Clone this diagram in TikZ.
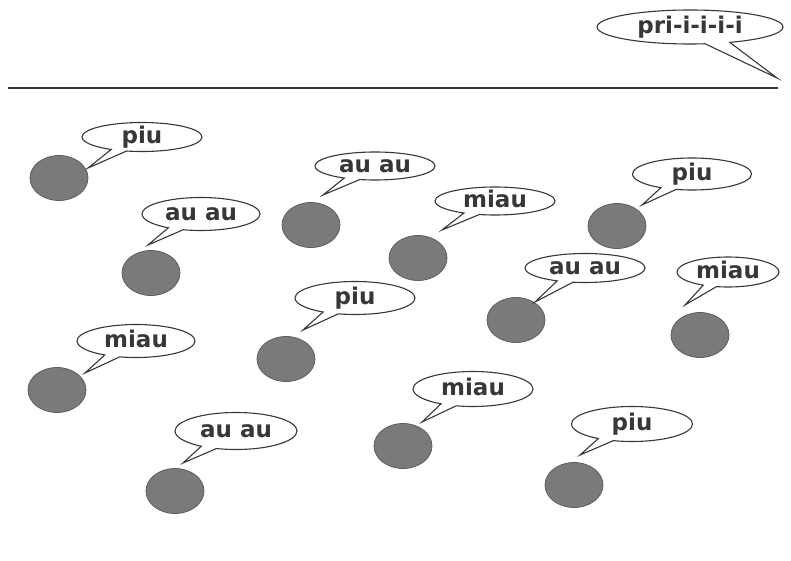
\documentclass[tikz,border=0pt]{standalone}
\usepackage{fontspec}
\setmainfont{DejaVu Sans}
\usetikzlibrary{shapes.geometric,shapes.callouts}
\definecolor{ballgray}{RGB}{122,122,122}
\definecolor{balledge}{RGB}{95,95,95}
\definecolor{inkgray}{RGB}{55,55,55}
\tikzset{
  ball/.style={ellipse, fill=ballgray, draw=balledge, line width=0.8pt,
    minimum width=58pt, minimum height=45pt, inner sep=0pt},
  bubble/.style={ellipse callout, draw=inkgray, line width=1.1pt, fill=white,
    inner sep=0pt, font=\bfseries\fontsize{23}{23}\selectfont, text=inkgray,
    text height=12.6pt, text depth=0pt, callout pointer arc=16},
  rule/.style={draw=inkgray, line width=1.3pt}
}
\begin{document}
\begin{tikzpicture}[x=1pt,y=-1pt]
\useasboundingbox (0,0) rectangle (791,561);
% top line
\coordinate (L1) at (8,88);
\coordinate (L2) at (778,88);
\draw[rule] (L1) -- (L2);
% balls
\node[ball] (b1) at (59,178) {};
\node[ball] (b2) at (151,273) {};
\node[ball] (b3) at (311,225) {};
\node[ball] (b4) at (418,258) {};
\node[ball] (b5) at (617,226) {};
\node[ball] (b6) at (516,320) {};
\node[ball] (b7) at (700,335) {};
\node[ball] (b8) at (286,359) {};
\node[ball] (b9) at (57,390) {};
\node[ball] (b10) at (403,446) {};
\node[ball] (b11) at (175,491) {};
\node[ball] (b12) at (574,485) {};
% pointer tips
\coordinate (t0) at (777,78);
\coordinate (t1) at (88,168);
\coordinate (t2) at (148,245);
\coordinate (t3) at (323,195);
\coordinate (t4) at (442,230);
\coordinate (t5) at (642,205);
\coordinate (t6) at (535,302);
\coordinate (t7) at (685,305);
\coordinate (t8) at (303,330);
\coordinate (t9) at (85,373);
\coordinate (t10) at (422,422);
\coordinate (t11) at (183,463);
\coordinate (t12) at (580,455);
% bubbles
\node[bubble, minimum width=186pt, minimum height=34pt, callout absolute pointer=(t0)] (s0) at (690,27) {pri-i-i-i-i};
\node[bubble, minimum width=120pt, minimum height=29pt, callout absolute pointer=(t1)] (s1) at (142,137) {piu};
\node[bubble, minimum width=118pt, minimum height=33pt, callout absolute pointer=(t2)] (s2) at (201,214) {au au};
\node[bubble, minimum width=120pt, minimum height=28pt, callout absolute pointer=(t3)] (s3) at (375,166) {au au};
\node[bubble, minimum width=120pt, minimum height=28pt, callout absolute pointer=(t4)] (s4) at (495,201) {miau};
\node[bubble, minimum width=119pt, minimum height=32pt, callout absolute pointer=(t5)] (s5) at (692,174) {piu};
\node[bubble, minimum width=120pt, minimum height=29pt, callout absolute pointer=(t6)] (s6) at (585,268) {au au};
\node[bubble, minimum width=102pt, minimum height=30pt, callout absolute pointer=(t7)] (s7) at (728,272) {miau};
\node[bubble, minimum width=120pt, minimum height=33pt, callout absolute pointer=(t8)] (s8) at (355,298) {piu};
\node[bubble, minimum width=118pt, minimum height=33pt, callout absolute pointer=(t9)] (s9) at (136,341) {miau};
\node[bubble, minimum width=120pt, minimum height=35pt, callout absolute pointer=(t10)] (s10) at (473,389) {miau};
\node[bubble, minimum width=122pt, minimum height=37pt, callout absolute pointer=(t11)] (s11) at (236,431) {au au};
\node[bubble, minimum width=121pt, minimum height=35pt, callout absolute pointer=(t12)] (s12) at (632,424) {piu};
\end{tikzpicture}
\end{document}
